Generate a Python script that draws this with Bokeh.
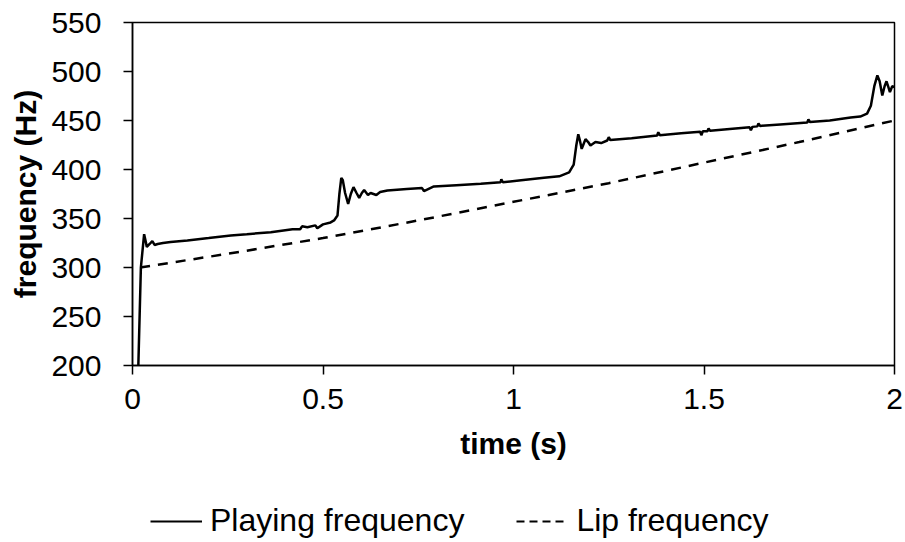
from bokeh.plotting import figure
from bokeh.layouts import column
from bokeh.models import (ColumnDataSource, Range1d, FixedTicker, NumeralTickFormatter,
                          Legend, LegendItem)
from bokeh.embed import file_html
from bokeh.resources import INLINE

# ---- data ----
play_t = [0.012, 0.022, 0.0305, 0.035, 0.0375, 0.045, 0.052, 0.058, 0.066, 0.08, 0.10,
          0.144, 0.20, 0.258, 0.30, 0.363, 0.42, 0.44, 0.445, 0.459, 0.48, 0.485, 0.50,
          0.52, 0.529, 0.538, 0.543, 0.548, 0.552, 0.558, 0.566, 0.573, 0.580, 0.588,
          0.595, 0.602, 0.608, 0.618, 0.625, 0.64, 0.65, 0.669, 0.72, 0.76, 0.765,
          0.791, 0.85, 0.914, 0.966, 0.968, 0.972, 1.02, 1.08, 1.12, 1.146, 1.158,
          1.165, 1.170, 1.174, 1.179, 1.184, 1.189, 1.196, 1.202, 1.215, 1.23, 1.246,
          1.25, 1.254, 1.31, 1.377, 1.38, 1.384, 1.44, 1.49, 1.493, 1.497, 1.509,
          1.512, 1.516, 1.575, 1.62, 1.623, 1.627, 1.640, 1.643, 1.647, 1.70, 1.771,
          1.774, 1.778, 1.83, 1.885, 1.91, 1.928, 1.938, 1.947, 1.955, 1.961, 1.968,
          1.974, 1.979, 1.984, 1.988, 1.994, 2.0]
play_f = [150, 300, 334, 326, 321, 324, 327, 323, 324, 325, 326,
          327.5, 330, 332.7, 334, 336, 339, 339, 342, 341, 343, 340, 344,
          346, 348, 353, 375, 391.5, 389, 376, 365, 375, 382, 376,
          371, 376, 379, 374, 376, 374, 377, 378.6, 380, 381, 378,
          382.7, 384, 385.4, 387, 390, 387, 389, 391.5, 393, 397, 405,
          425, 436, 430, 421, 426, 431, 428, 424.5, 428, 427, 429.6,
          433, 430, 432, 434.7, 438, 435, 437, 438.5, 435, 439, 439,
          442, 439.5, 441.5, 443, 440, 443.5, 444, 447, 444.5, 446, 448,
          451, 448.5, 450, 453, 454, 457, 465, 485, 496, 490, 475.5,
          485, 490, 484, 479, 485, 484]

lip_t = [0.02, 0.25, 0.5, 0.75, 1.0, 1.25, 1.5, 1.75, 2.0]
lip_f = [300, 314, 330, 348, 367, 386, 407, 428, 450]

x_ticks = [0, 0.5, 1, 1.5, 2]
y_ticks = [200, 250, 300, 350, 400, 450, 500, 550]
series_names = ["Playing frequency", "Lip frequency"]

FONT = "Liberation Sans"
W = 905
H_LEG = 70
H_PLOT = 542 - H_LEG
NAN = float("nan")

p = figure(width=W, height=H_PLOT, output_backend="svg", toolbar_location=None,
           x_range=Range1d(0, 2), y_range=Range1d(200, 550),
           min_border_left=132, min_border_right=11, min_border_top=22,
           min_border_bottom=H_PLOT - 365)
p.background_fill_color = "white"
p.border_fill_color = "white"
p.grid.visible = False
p.outline_line_color = "black"
p.outline_line_width = 1.5

src_play = ColumnDataSource(dict(t=play_t, f=play_f))
src_lip = ColumnDataSource(dict(t=lip_t, f=lip_f))

p.line("t", "f", source=src_play, line_color="black", line_width=2.5)
p.line("t", "f", source=src_lip, line_color="black", line_width=2.5, line_dash="10 8")

for ax in (p.xaxis[0], p.yaxis[0]):
    ax.axis_line_color = "black"
    ax.axis_line_width = 1.5
    ax.major_tick_line_color = "black"
    ax.major_tick_line_width = 1.5
    ax.major_tick_out = 9
    ax.major_tick_in = 0
    ax.minor_tick_line_color = None
    ax.major_label_text_font = FONT
    ax.major_label_text_font_size = "30px"
    ax.major_label_text_color = "black"
    ax.axis_label_text_font = FONT
    ax.axis_label_text_font_size = "30px"
    ax.axis_label_text_font_style = "bold"
    ax.axis_label_text_color = "black"

p.xaxis.ticker = FixedTicker(ticks=x_ticks)
p.xaxis.formatter = NumeralTickFormatter(format="0.[0]")
p.xaxis.axis_label = "time (s)"
p.xaxis.major_label_standoff = 14
p.xaxis.axis_label_standoff = 15

p.yaxis.ticker = FixedTicker(ticks=y_ticks)
p.yaxis.axis_label = "frequency (Hz)"
p.yaxis.major_label_standoff = 22
p.yaxis.axis_label_standoff = 6

# ---- legend strip below the chart ----
q = figure(width=W, height=H_LEG, output_backend="svg", toolbar_location=None,
           x_axis_location=None, y_axis_location=None,
           x_range=Range1d(0, 1), y_range=Range1d(0, 1),
           min_border=0)
q.grid.visible = False
q.outline_line_color = None
q.background_fill_color = "white"
q.border_fill_color = "white"
# key-only renderers (no visible data)
k_play = q.line(x=[NAN], y=[NAN], line_color="black", line_width=2)
k_lip = q.line(x=[NAN], y=[NAN], line_color="black", line_width=2, line_dash="8 5")

legend = Legend(items=[LegendItem(label=series_names[0], renderers=[k_play]),
                       LegendItem(label=series_names[1], renderers=[k_lip])],
                location=(18, 3), orientation="horizontal",
                glyph_width=52, label_standoff=8, spacing=52,
                padding=0, margin=0, border_line_color=None,
                background_fill_alpha=0,
                label_text_font=FONT, label_text_font_size="32px",
                label_text_color="black")
q.add_layout(legend, "center")

layout = column(p, q, spacing=0)
open("out.html", "w").write(file_html(layout, INLINE))
